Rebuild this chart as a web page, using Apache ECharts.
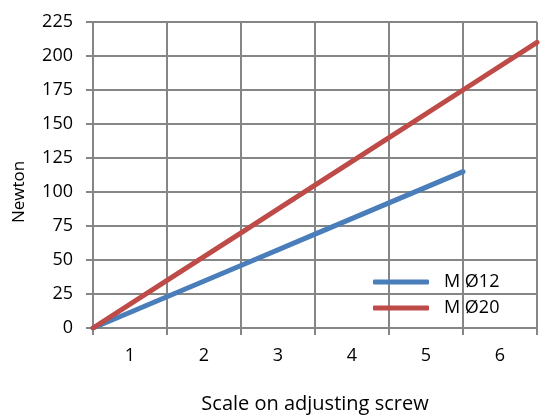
<!DOCTYPE html>
<html>
<head>
<meta charset="utf-8">
<script src="https://cdn.jsdelivr.net/npm/echarts@6/dist/echarts.min.js"></script>
<style>html,body{margin:0;padding:0;background:#fff}#c{width:546px;height:419px}</style>
</head>
<body>
<div id="c"></div>
<script>
var categories = ['1','2','3','4','5','6'];
var xPositions = [0,1,2,3,4,5,6];
var seriesNames = ['M Ø12','M Ø20'];
var m12 = [0,23,46,69,92,115];
var m20 = [0,35,70,105,140,175,210];

var font = 'Open Sans';
var gridColor = '#868686';
function pairs(xs, ys){ return ys.map(function(y,i){ return [xs[i], y]; }); }

var chart = echarts.init(document.getElementById('c'), null, {renderer:'canvas'});
chart.setOption({
  animation:false,
  textStyle:{fontFamily:font},
  grid:{left:93,right:9,top:22,bottom:90,containLabel:false},
  legend:{
    orient:'vertical', left:368, top:268, itemWidth:56, itemHeight:5, itemGap:8,
    icon:'roundRect',
    textStyle:{fontFamily:font,fontSize:18,color:'#000',padding:[0,0,0,10]},
    data:seriesNames
  },
  xAxis:[{
    type:'category', data:categories, boundaryGap:true,
    name:'Scale on adjusting screw', nameLocation:'middle', nameGap:66,
    nameTextStyle:{fontFamily:font,fontSize:20,color:'#000'},
    axisLine:{lineStyle:{color:gridColor,width:2}},
    axisTick:{show:true,length:7,lineStyle:{color:gridColor,width:2}},
    axisLabel:{fontFamily:font,fontSize:18,color:'#000',margin:19},
    splitLine:{show:true,lineStyle:{color:gridColor,width:2}}
  },{
    type:'value', min:0, max:6, show:false
  }],
  yAxis:{
    type:'value', min:0, max:225, interval:25,
    name:'Newton', nameLocation:'middle', nameGap:65, nameRotate:90,
    nameTextStyle:{fontFamily:font,fontSize:17,color:'#000',padding:[0,0,0,-34]},
    axisLine:{show:true,lineStyle:{color:gridColor,width:2}},
    axisTick:{show:true,length:7,lineStyle:{color:gridColor,width:2}},
    axisLabel:{fontFamily:font,fontSize:18,color:'#000',margin:20},
    splitLine:{show:true,lineStyle:{color:gridColor,width:2}}
  },
  series:[{
    name:seriesNames[0], type:'line', xAxisIndex:1, data:pairs(xPositions,m12),
    symbol:'none', lineStyle:{color:'#4A7EBB',width:5,cap:'round'}, itemStyle:{color:'#4A7EBB'}
  },{
    name:seriesNames[1], type:'line', xAxisIndex:1, data:pairs(xPositions,m20),
    symbol:'none', lineStyle:{color:'#BE4B48',width:5,cap:'round'}, itemStyle:{color:'#BE4B48'}
  }]
});
</script>
</body>
</html>
